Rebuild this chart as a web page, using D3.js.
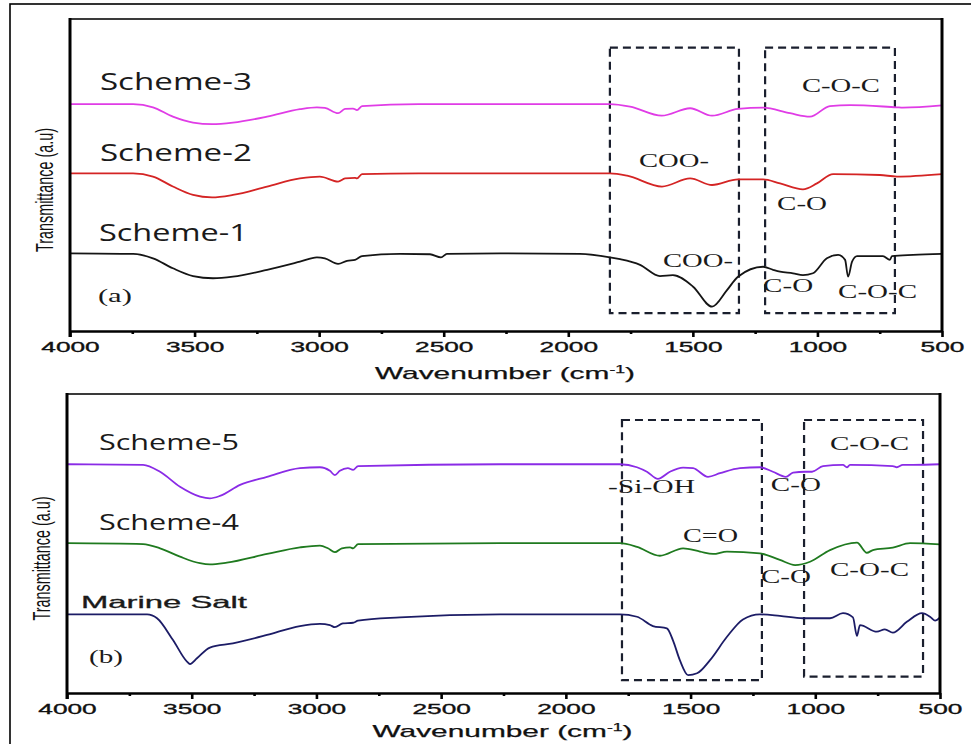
<!DOCTYPE html>
<html>
<head>
<meta charset="utf-8">
<script src="https://cdnjs.cloudflare.com/ajax/libs/d3/7.8.5/d3.min.js"></script>
<style>
body{margin:0;background:#fff}
svg{display:block}
</style>
</head>
<body>
<svg></svg>
<script>
// FTIR spectra, wavenumber (cm-1) vs transmittance (a.u.)
var majorTicks=[4000,3500,3000,2500,2000,1500,1000,500]
var minorTicks=[3750,3250,2750,2250,1750,1250,750]

var scheme3=[[4000,72.7],[3747,72.7],[3667,71.7],[3587,68.7],[3506,66.8],[3430,66.3],[3346,66.8],[3209,68.7],[3077,71.1],[3009,71.7],[2977,71.5],[2924,69.8],[2896,71.2],[2864,71.3],[2848,70.8],[2828,72.1],[2600,72.7],[2200,72.7],[1833,72.7],[1752,71.9],[1625,69.0],[1511,71.4],[1423,69.0],[1319,71.2],[1218,71.6],[1110,69.8],[1030,68.7],[950,72.1],[869,72.4],[681,71.7],[657,71.6],[500,72.3]]
var scheme2=[[4000,50.5],[3747,50.5],[3667,49.5],[3587,46.3],[3506,43.6],[3430,42.8],[3346,43.6],[3209,46.3],[3077,48.9],[2997,49.5],[2924,47.9],[2896,48.9],[2856,49.1],[2848,48.9],[2828,50.3],[2600,50.5],[1833,50.5],[1764,49.8],[1624,46.3],[1511,48.9],[1423,46.8],[1319,48.6],[1218,48.6],[1150,47.3],[1058,45.4],[1002,47.3],[937,50.3],[749,50.0],[681,49.5],[500,50.3]]
var scheme1=[[4000,24.9],[3747,24.7],[3667,23.3],[3587,20.1],[3506,17.6],[3426,16.9],[3346,17.4],[3209,19.6],[3077,22.2],[3009,23.6],[2977,23.3],[2924,21.5],[2888,22.5],[2856,22.8],[2828,24.0],[2675,24.7],[2555,24.6],[2511,23.6],[2487,24.7],[2274,24.9],[1953,24.7],[1833,23.6],[1792,23.0],[1712,21.2],[1632,17.6],[1580,17.9],[1499,14.2],[1423,7.8],[1363,13.1],[1319,17.4],[1218,20.6],[1178,19.6],[1150,19.0],[1098,18.5],[1058,17.9],[1018,18.5],[962,23.3],[917,24.4],[889,22.8],[877,17.4],[861,22.2],[841,24.0],[737,24.0],[709,22.8],[701,24.0],[616,24.4],[500,24.7]]

var scheme5=[[4000,76.5],[3695,76.3],[3627,74.0],[3547,69.0],[3467,65.7],[3427,65.1],[3387,65.9],[3306,69.6],[3198,72.3],[3066,75.2],[2986,75.5],[2946,74.3],[2926,72.9],[2906,74.3],[2874,75.2],[2853,74.6],[2833,75.9],[2264,76.5],[1783,76.5],[1715,75.5],[1675,74.0],[1631,71.6],[1583,74.0],[1530,75.4],[1490,75.2],[1430,72.3],[1382,73.5],[1302,75.2],[1222,75.5],[1170,74.0],[1118,72.3],[1089,73.7],[1041,74.0],[1013,74.0],[969,75.9],[889,76.3],[873,75.5],[861,76.3],[689,75.9],[673,75.5],[649,76.3],[608,76.3],[500,76.5]]
var scheme4=[[4000,50.1],[3695,49.8],[3627,48.4],[3547,45.6],[3467,43.4],[3427,43.0],[3359,43.6],[3198,46.5],[3066,48.7],[2986,49.3],[2954,48.4],[2926,47.1],[2898,48.4],[2865,48.7],[2853,48.4],[2833,49.8],[2264,50.1],[1783,50.1],[1715,48.9],[1623,45.9],[1530,48.4],[1462,47.3],[1410,46.5],[1354,47.3],[1222,46.7],[1142,44.5],[1081,42.8],[1021,43.9],[941,47.8],[833,50.3],[793,46.9],[769,47.8],[689,48.6],[620,50.1],[500,49.7]]
var marineSalt=[[4000,26.3],[3679,26.3],[3639,25.0],[3575,17.7],[3519,10.5],[3507,9.7],[3479,11.6],[3427,15.2],[3335,16.6],[3198,19.4],[3066,22.4],[2986,23.1],[2946,22.7],[2926,22.0],[2894,23.3],[2853,23.5],[2833,24.2],[2665,25.3],[2264,26.3],[1783,26.3],[1715,25.5],[1651,22.4],[1595,21.6],[1571,17.7],[1543,11.0],[1510,6.0],[1474,6.6],[1422,11.0],[1354,18.8],[1290,24.6],[1222,26.3],[1142,25.8],[1049,25.0],[941,25.0],[889,26.7],[849,25.3],[833,19.1],[821,22.7],[753,20.5],[721,21.3],[689,20.2],[633,23.8],[572,26.7],[540,25.5],[520,24.2],[500,25.3]]

var seriesA=[
  {name:"Scheme-3",values:scheme3,color:"#e03ce6"},
  {name:"Scheme-2",values:scheme2,color:"#d42424"},
  {name:"Scheme-1",values:scheme1,color:"#151515"}
]
var seriesB=[
  {name:"Scheme-5",values:scheme5,color:"#8a2be6"},
  {name:"Scheme-4",values:scheme4,color:"#1f7a1f"},
  {name:"Marine Salt",values:marineSalt,color:"#1c1c66"}
]

// annotations: [text, wavenumber, T, width]
var namesA=[["Scheme-3",3880,77.2,152],["Scheme-2",3880,54.6,152],["Scheme-1",3884,28.8,149]]
var groupsA=[["C-O-C",1062,76.6,78],["COO-",1716,52.6,70],["C-O",1162,38.8,50],["COO-",1620,20.5,70],["C-O",1218,12.5,50],["C-O-C",917,10.6,79]]
var boxesA=[[1833,1315,90.8,5.7],[1210,689,90.8,5.7]]

var namesB=[["Scheme-5",3872,81.3,140],["Scheme-4",3872,54.5,140]]
var groupsB=[["-Si-OH",1831,66.9,87],["C-O",1178,67.6,50],["C-O-C",941,81.3,79],["C=O",1530,50.5,55],["C-O",1218,36.8,50],["C-O-C",941,39.1,79]]
var boxesB=[[1775,1214,91.3,4.3],[1045,568,91.3,5.5]]

var screen={width:971,height:744}

var svg=d3.select("svg")
  .attr("width",screen.width)
  .attr("height",screen.height)

svg.append("rect").attr("width",screen.width).attr("height",screen.height).attr("fill","#fff")
svg.append("rect")
  .attr("x",10).attr("y",4).attr("width",990).attr("height",800)
  .attr("fill","none").attr("stroke","#000").attr("stroke-width",1.6)

var drawPanel=function(box,series,names,groups,boxes,tag,tagPos,extraName)
{
  var x=d3.scaleLinear().domain([4000,500]).range([box.left,box.right])
  var y=d3.scaleLinear().domain([0,100]).range([box.bottom,box.top])
  var g=svg.append("g")

  // dashed group boxes
  g.selectAll("rect.dash")
    .data(boxes)
    .enter()
    .append("rect")
    .attr("x",function(d){return x(d[0])})
    .attr("y",function(d){return y(d[2])})
    .attr("width",function(d){return x(d[1])-x(d[0])})
    .attr("height",function(d){return y(d[3])-y(d[2])})
    .attr("fill","none")
    .attr("stroke","#1a1f2e")
    .attr("stroke-width",2.2)
    .attr("stroke-dasharray","8,5")

  var line=d3.line()
    .x(function(d){return x(d[0])})
    .y(function(d){return y(d[1])})
    .curve(d3.curveMonotoneX)

  g.selectAll("path.spec")
    .data(series)
    .enter()
    .append("path")
    .attr("d",function(d){return line(d.values)})
    .attr("fill","none")
    .attr("stroke",function(d){return d.color})
    .attr("stroke-width",1.8)

  // frame
  g.append("line").attr("x1",box.left).attr("x2",box.right).attr("y1",box.top).attr("y2",box.top)
    .attr("stroke","#3a3a3a").attr("stroke-width",2.2)
  g.append("line").attr("x1",box.right).attr("x2",box.right).attr("y1",box.top-1).attr("y2",box.bottom)
    .attr("stroke","#000").attr("stroke-width",3)
  g.append("line").attr("x1",box.left).attr("x2",box.left).attr("y1",box.top-1).attr("y2",box.bottom+6)
    .attr("stroke","#000").attr("stroke-width",3)

  var ax=g.append("g").attr("transform","translate(0,"+box.bottom+")")
    .call(d3.axisBottom(x).tickValues(majorTicks).tickSize(6).tickSizeOuter(0).tickPadding(4).tickFormat(d3.format("d")))
  ax.select(".domain").attr("stroke","#000").attr("stroke-width",2.5)
  ax.selectAll(".tick line").attr("stroke","#000").attr("stroke-width",2.6)
  ax.selectAll(".tick text")
    .attr("fill","#111")
    .attr("stroke","#111")
    .attr("stroke-width",0.35)
    .style("font-family","'Liberation Sans',Arial,sans-serif")
    .style("font-size","15px")
    .attr("textLength",function(d){return String(d).length*14.6})
    .attr("lengthAdjust","spacingAndGlyphs")

  var mx=g.append("g").attr("transform","translate(0,"+box.bottom+")")
    .call(d3.axisBottom(x).tickValues(minorTicks).tickSize(3).tickFormat(""))
  mx.select(".domain").remove()
  mx.selectAll(".tick line").attr("stroke","#000").attr("stroke-width",2.6)

  // axis titles
  var xt=g.append("text")
    .attr("x",(box.left+box.right)/2-1)
    .attr("y",box.bottom+box.titleGap)
    .attr("text-anchor","middle")
    .style("font-family","'Liberation Sans',Arial,sans-serif")
    .style("font-size","17px")
    .attr("fill","#111")
    .attr("stroke","#111")
    .attr("stroke-width",0.25)
    .attr("textLength",260)
    .attr("lengthAdjust","spacingAndGlyphs")
  xt.append("tspan").text("Wavenumber (cm")
  xt.append("tspan").attr("dy",-6).style("font-size","10px").text("-1")
  xt.append("tspan").attr("dy",6).text(")")

  g.append("text")
    .attr("transform","translate("+(box.left-17)+","+((box.top+box.bottom)/2+15)+") rotate(-90)")
    .attr("text-anchor","middle")
    .style("font-family","'Liberation Sans',Arial,sans-serif")
    .style("font-size","23px")
    .attr("fill","#111")
    .attr("textLength",124)
    .attr("lengthAdjust","spacingAndGlyphs")
    .text("Transmittance (a.u)")

  // series names
  g.selectAll("text.name")
    .data(names)
    .enter()
    .append("text")
    .attr("x",function(d){return x(d[1])})
    .attr("y",function(d){return y(d[2])})
    .style("font-family","'Open Sans',sans-serif")
    .style("font-size",box.nameSize+"px")
    .attr("fill","#1a1a1a")
    .attr("textLength",function(d){return d[3]})
    .attr("lengthAdjust","spacingAndGlyphs")
    .text(function(d){return d[0]})

  if(extraName){
    g.append("text")
      .attr("x",x(extraName[1]))
      .attr("y",y(extraName[2]))
      .style("font-family","'Liberation Sans',Arial,sans-serif")
      .style("font-size","16.5px")
      .attr("fill","#1a1a1a")
      .attr("stroke","#1a1a1a")
      .attr("stroke-width",0.3)
      .attr("textLength",extraName[3])
      .attr("lengthAdjust","spacingAndGlyphs")
      .text(extraName[0])
  }

  // functional group labels
  g.selectAll("text.grp")
    .data(groups)
    .enter()
    .append("text")
    .attr("x",function(d){return x(d[1])})
    .attr("y",function(d){return y(d[2])})
    .style("font-family","'Liberation Serif','Times New Roman',serif")
    .style("font-size","19px")
    .attr("fill","#1a1a1a")
    .attr("textLength",function(d){return d[3]})
    .attr("lengthAdjust","spacingAndGlyphs")
    .text(function(d){return d[0]})

  g.append("text")
    .attr("x",x(tagPos[0]))
    .attr("y",y(tagPos[1]))
    .style("font-family","'Liberation Serif','Times New Roman',serif")
    .style("font-size","18px")
    .attr("fill","#1a1a1a")
    .attr("textLength",34)
    .attr("lengthAdjust","spacingAndGlyphs")
    .text(tag)
}

drawPanel({left:70,right:942,top:19,bottom:331,nameSize:23,titleGap:48},seriesA,namesA,groupsA,boxesA,"(a)",[3888,9.3],null)
drawPanel({left:67,right:940,top:394,bottom:693,nameSize:21,titleGap:44},seriesB,namesB,groupsB,boxesB,"(b)",[3912,10.0],["Marine Salt",3944,28.5,166])
</script>
</body>
</html>
